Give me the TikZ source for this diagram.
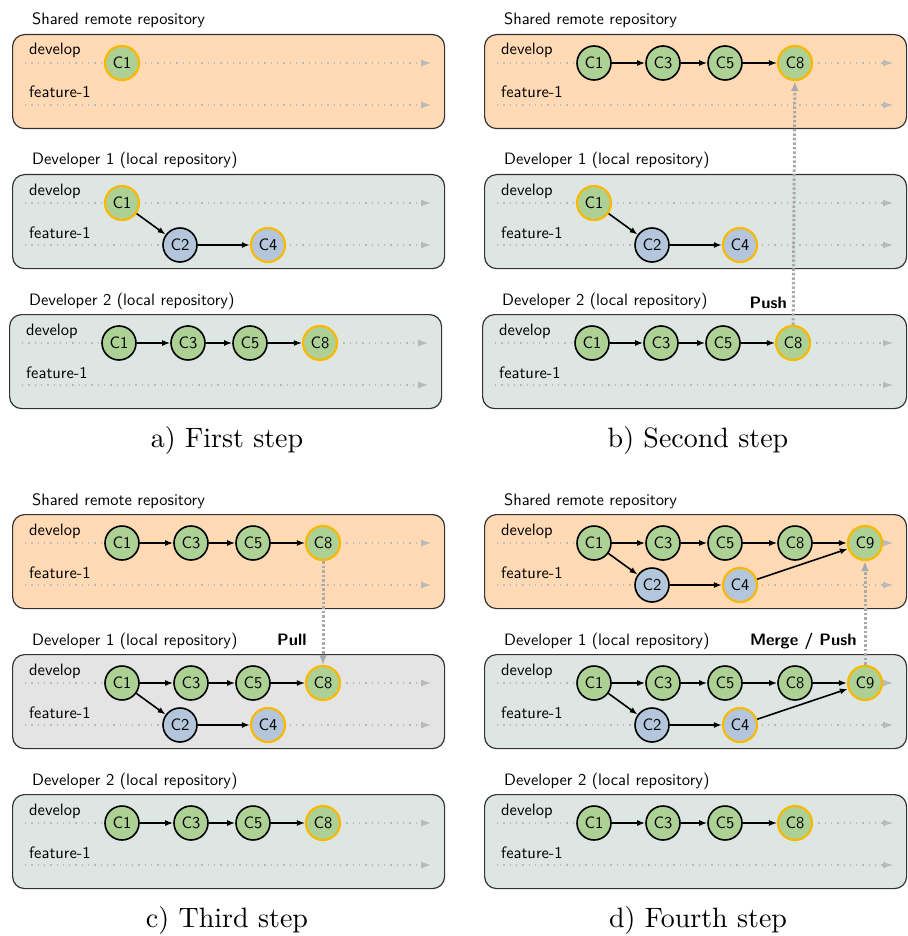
\documentclass[tikz,border=0pt]{standalone}
\usetikzlibrary{arrows.meta}
\font\gitlbl="[lmsans10-regular.otf]" at 16.5pt
\font\gitbf="[lmsans10-bold.otf]" at 16.5pt
\font\gitnum="[lmsans10-regular.otf]" at 16.5pt
\font\gitcap="[lmroman10-regular.otf]" at 28pt
\definecolor{remotefill}{RGB}{255,218,180}
\definecolor{localfill}{RGB}{222,230,228}
\definecolor{pullfill}{RGB}{228,228,228}
\definecolor{commitgreen}{RGB}{173,208,148}
\definecolor{commitblue}{RGB}{180,198,220}
\definecolor{headring}{RGB}{250,185,0}
\definecolor{lanegray}{RGB}{185,185,185}
\definecolor{syncgray}{RGB}{170,170,170}
\tikzset{
    repobox/.style={
        draw=black!80,
        line width=1.2pt,
        rounded corners=12pt,
        minimum height=94pt,
        inner sep=0pt
    },
    boxtitle/.style={anchor=base west, font=\gitlbl, inner sep=0pt},
    branchlabel/.style={anchor=base west, font=\gitlbl, inner sep=0pt},
    lane/.style={draw=lanegray, line width=1.3pt, dash pattern=on 1.3pt off 5pt, -{Latex[length=10pt,width=7pt]}},
    commit/.style={circle, draw, line width=1.6pt, minimum size=34pt, inner sep=0pt, font=\gitnum},
    gcommit/.style={commit, fill=commitgreen},
    bcommit/.style={commit, fill=commitblue},
    head/.style={draw=headring, line width=2.2pt},
    line/.style={-{Latex[length=8pt,width=6pt]}, line width=1.6pt},
    sync/.style={draw=syncgray, line width=3pt, dash pattern=on 2.5pt off 2pt, -{Latex[length=10pt,width=8pt]}},
    synclabel/.style={font=\gitbf, inner sep=0pt},
    caption/.style={font=\gitcap}
}
% box with title, branch names and lanes
\newcommand\repo[6]{%
  \begin{scope}[shift={(#2,#3)}]
    \node[boxtitle] (#1t) at (20,-9) {#6};
    \node[repobox, fill=#5, minimum width=#4pt, anchor=north west] (#1) at (0,0) {};
    \node[branchlabel] (#1dl) at (17,21) {develop};
    \node[branchlabel] (#1fl) at (17,64) {feature-1};
    \coordinate (#1d) at (0,29);
    \coordinate (#1f) at (0,71);
    \coordinate (#1ds) at (13,29);
    \coordinate (#1de) at (#4-13,29);
    \coordinate (#1fs) at (13,71);
    \coordinate (#1fe) at (#4-13,71);
    \draw[lane] (#1ds) -- (#1de);
    \draw[lane] (#1fs) -- (#1fe);
  \end{scope}}
% C1 -> C3 -> C5 -> C8 on develop
\newcommand\trunk[2]{%
  \foreach \n/\x in {1/110,3/179,5/241}
    \node[gcommit] (#1c\n) at ([xshift=\x pt]#1d) {C\n};
  \node[gcommit, #2] (#1c8) at ([xshift=311pt]#1d) {C8};
  \draw[line] (#1c1) -- (#1c3);
  \draw[line] (#1c3) -- (#1c5);
  \draw[line] (#1c5) -- (#1c8);}
% C1 -> C2 -> C4 on feature-1
\newcommand\feature[1]{%
  \node[bcommit] (#1c2) at ([xshift=168pt]#1f) {C2};
  \node[bcommit, head] (#1c4) at ([xshift=256pt]#1f) {C4};
  \draw[line] (#1c1) -- (#1c2);
  \draw[line] (#1c2) -- (#1c4);}
\begin{document}
\begin{tikzpicture}[x=1pt, y=-1pt]
\useasboundingbox (0,0) rectangle (907,936);

\repo{aR}{12}{34}{432}{remotefill}{Shared remote repository}
\repo{aA}{12}{174}{432}{localfill}{Developer 1 (local repository)}
\repo{aB}{9}{314}{432}{localfill}{Developer 2 (local repository)}
\node[gcommit, head] (aRc1) at ([xshift=110pt]aRd) {C1};
\node[gcommit, head] (aAc1) at ([xshift=110pt]aAd) {C1};
\feature{aA}
\trunk{aB}{head}
\node[caption] (capa) at (227,440) {a) First step};

\repo{bR}{484}{34}{422}{remotefill}{Shared remote repository}
\repo{bA}{484}{174}{422}{localfill}{Developer 1 (local repository)}
\repo{bB}{482}{314}{424}{localfill}{Developer 2 (local repository)}
\trunk{bR}{head}
\node[gcommit, head] (bAc1) at ([xshift=110pt]bAd) {C1};
\feature{bA}
\trunk{bB}{head}
\draw[sync] (bBc8) -- node[synclabel, pos=0.09, left=5pt] (bpush) {Push} (bRc8);
\node[caption] (capb) at (698,440) {b) Second step};

\repo{cR}{12}{514}{432}{remotefill}{Shared remote repository}
\repo{cA}{12}{654}{432}{pullfill}{Developer 1 (local repository)}
\repo{cB}{12}{794}{432}{localfill}{Developer 2 (local repository)}
\trunk{cR}{head}
\trunk{cA}{head}
\feature{cA}
\trunk{cB}{head}
\draw[sync] (cRc8) -- node[synclabel, pos=0.76, left=15pt] (cpull) {Pull} (cAc8);
\node[caption] (capc) at (227,920) {c) Third step};

\repo{dR}{484}{514}{422}{remotefill}{Shared remote repository}
\repo{dA}{484}{654}{422}{localfill}{Developer 1 (local repository)}
\repo{dB}{484}{794}{422}{localfill}{Developer 2 (local repository)}
\trunk{dR}{}
\feature{dR}
\node[gcommit, head] (dRc9) at ([xshift=381pt]dRd) {C9};
\draw[line] (dRc8) -- (dRc9);
\draw[line] (dRc4) -- (dRc9);
\trunk{dA}{}
\feature{dA}
\node[gcommit, head] (dAc9) at ([xshift=381pt]dAd) {C9};
\draw[line] (dAc8) -- (dAc9);
\draw[line] (dAc4) -- (dAc9);
\trunk{dB}{head}
\draw[sync] (dAc9) -- node[synclabel, pos=0.23, left=7pt] (dpush) {Merge / Push} (dRc9);
\node[caption] (capd) at (698,920) {d) Fourth step};
\end{tikzpicture}
\end{document}
